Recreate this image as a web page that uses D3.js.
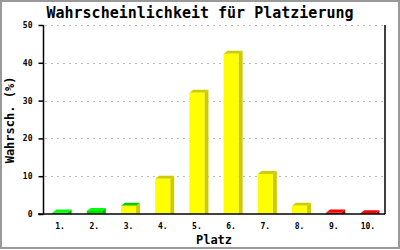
<!DOCTYPE html>
<html>
<head>
<meta charset="utf-8">
<script src="https://cdn.jsdelivr.net/npm/d3@7"></script>
<style>
body { margin: 0; background: #fff; }
text { font-family: "DejaVu Sans Mono", monospace; fill: #000; }
</style>
</head>
<body>
<div id="chart"></div>
<script>
// data
var places = ["1.", "2.", "3.", "4.", "5.", "6.", "7.", "8.", "9.", "10."];
var percent = [0.4, 0.8, 2.2, 9.3, 32.1, 42.4, 10.6, 2.2, 0.4, 0.2];
var yTicks = [0, 10, 20, 30, 40, 50];
var frontColors = ["#00dd00", "#00dd00", "#ffff00", "#ffff00", "#ffff00", "#ffff00", "#ffff00", "#ffff00", "#dd0000", "#dd0000"];
var topColors = ["#00ff00", "#00ff00", "#00cc00", "#cccc00", "#cccc00", "#cccc00", "#cccc00", "#cccc00", "#ff0000", "#ff0000"];
var sideColors = ["#00bb00", "#00bb00", "#cccc00", "#cccc00", "#cccc00", "#cccc00", "#cccc00", "#cccc00", "#bb0000", "#bb0000"];

var W = 400, H = 250;
var margin = { top: 25, right: 15, bottom: 36, left: 43 };
var dx = 4, dy = 3;

var svg = d3.select("#chart").append("svg")
	.attr("width", W)
	.attr("height", H);

svg.append("rect")
	.attr("x", 1).attr("y", 1)
	.attr("width", W - 2).attr("height", H - 3)
	.attr("fill", "#fff")
	.attr("stroke", "#999")
	.attr("stroke-width", 2);

var x = d3.scaleBand()
	.domain(places)
	.range([margin.left, W - margin.right])
	.paddingInner(0.56)
	.paddingOuter(0.28);

var y = d3.scaleLinear()
	.domain([0, 50])
	.range([H - margin.bottom, margin.top]);

var y0 = y(0);

// grid
svg.selectAll(".grid")
	.data(yTicks.filter(function(d) { return d > 0; }))
	.enter().append("line")
	.attr("class", "grid")
	.attr("x1", margin.left + 2)
	.attr("x2", W - margin.right - 2)
	.attr("y1", function(d) { return Math.round(y(d)) + 0.5; })
	.attr("y2", function(d) { return Math.round(y(d)) + 0.5; })
	.attr("stroke", "#bbb")
	.attr("stroke-dasharray", "2,4");

// bars (3d look)
var bars = svg.selectAll(".bar")
	.data(percent)
	.enter().append("g")
	.attr("class", "bar");

bars.append("polygon")
	.attr("points", function(d, i) {
		var bx = x(places[i]) + x.bandwidth(), by = y(d);
		return [[bx, by], [bx + dx, by - dy], [bx + dx, y0], [bx, y0]].join(" ");
	})
	.attr("fill", function(d, i) { return sideColors[i]; });

bars.append("polygon")
	.attr("points", function(d, i) {
		var bx = x(places[i]), bw = x.bandwidth(), by = y(d);
		return [[bx, by], [bx + dx, by - dy], [bx + bw + dx, by - dy], [bx + bw, by]].join(" ");
	})
	.attr("fill", function(d, i) { return topColors[i]; });

bars.append("rect")
	.attr("x", function(d, i) { return x(places[i]); })
	.attr("y", function(d) { return y(d); })
	.attr("width", x.bandwidth())
	.attr("height", function(d) { return y0 - y(d); })
	.attr("fill", function(d, i) { return frontColors[i]; });

// axes
var yAxis = svg.append("g")
	.attr("transform", "translate(" + (margin.left + 0.5) + ",0)")
	.call(d3.axisLeft(y).tickValues(yTicks).tickSize(5).tickPadding(6));
yAxis.select(".domain").attr("stroke", "#000").attr("stroke-width", 1.5).attr("d", "M0," + margin.top + "V" + y0);
yAxis.selectAll(".tick line").attr("stroke", "#000").attr("stroke-width", 1.5);
yAxis.selectAll("text").style("font-size", "8px").style("font-weight", "bold").attr("dy", "0.32em");

svg.append("line")
	.attr("x1", W - margin.right).attr("x2", W - margin.right)
	.attr("y1", margin.top).attr("y2", y0)
	.attr("stroke", "#000").attr("stroke-width", 1.5);

var xAxis = svg.append("g")
	.attr("transform", "translate(0," + y0 + ")")
	.call(d3.axisBottom(x).tickSize(0).tickPadding(9));
xAxis.select(".domain").attr("stroke", "#000").attr("stroke-width", 1.5).attr("d", "M" + (margin.left - 5) + ",0H" + (W - margin.right));
xAxis.selectAll("text").style("font-size", "8px").style("font-weight", "bold");

// titles
svg.append("text")
	.attr("x", W / 2)
	.attr("y", 18)
	.attr("text-anchor", "middle")
	.style("font-size", "15px")
	.style("font-weight", "bold")
	.text("Wahrscheinlichkeit für Platzierung");

svg.append("text")
	.attr("x", 214)
	.attr("y", 244)
	.attr("text-anchor", "middle")
	.style("font-size", "12px")
	.style("font-weight", "bold")
	.text("Platz");

svg.append("text")
	.attr("transform", "translate(14," + 120 + ")rotate(-90)")
	.attr("text-anchor", "middle")
	.style("font-size", "12px")
	.style("font-weight", "bold")
	.text("Wahrsch. (%)");
</script>
</body>
</html>
